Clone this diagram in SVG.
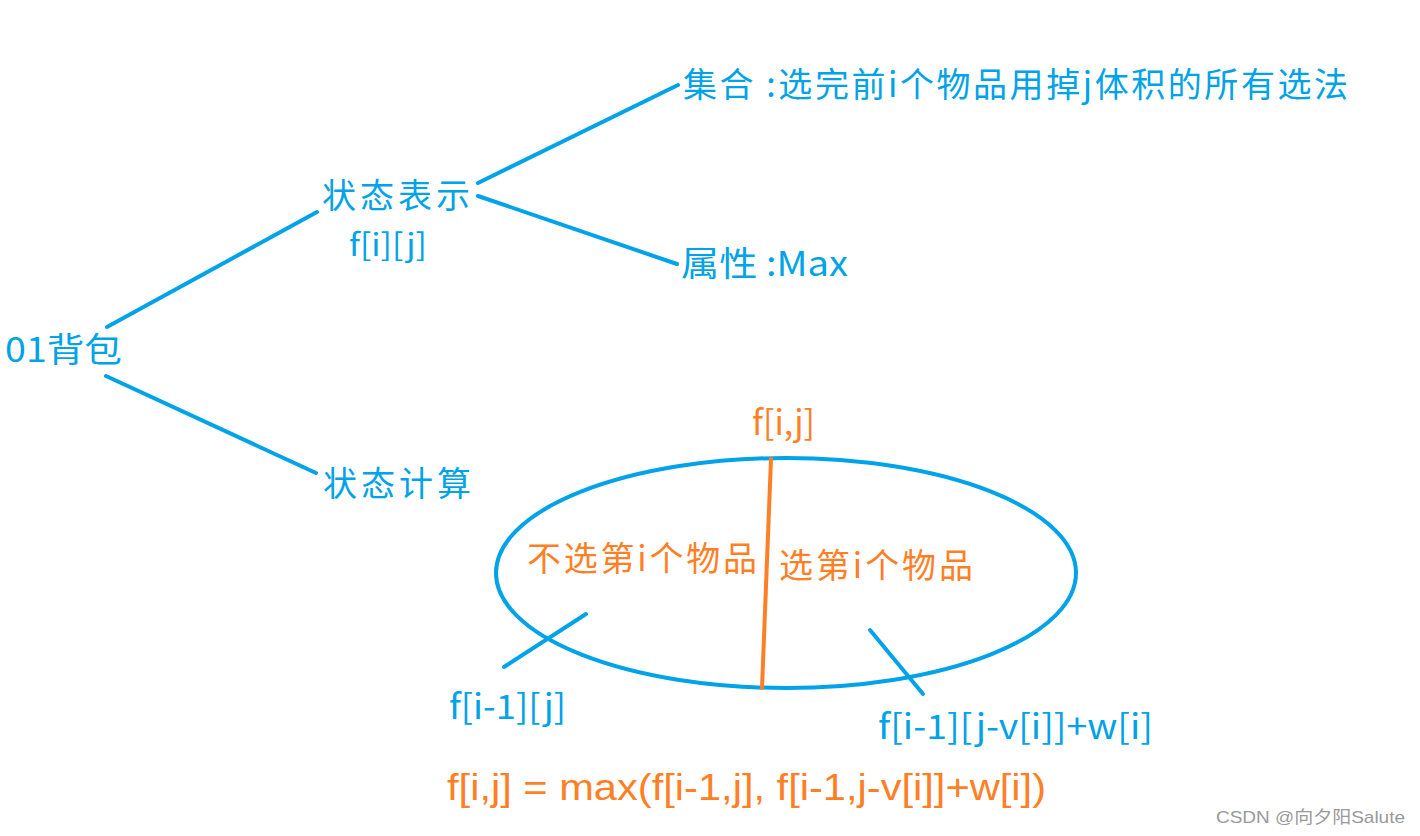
<svg xmlns="http://www.w3.org/2000/svg" width="1420" height="836" viewBox="0 0 1420 836">
<style>
.b{fill:#00A2E8;font-family:"Noto Sans CJK SC","Noto Sans",sans-serif;font-size:34px}
.o{fill:#FF7F27;font-family:"Noto Sans CJK SC","Noto Sans",sans-serif;font-size:34px}
.s{font-size:31px}
.f{fill:#FF7F27;font-family:"Liberation Sans","Noto Sans CJK SC",sans-serif;font-size:36px}
.w{fill:#999;font-family:"Liberation Sans","Noto Sans CJK SC",sans-serif;font-size:17px}
.lb{stroke:#00A2E8;stroke-width:4;stroke-linecap:round;fill:none}
.lo{stroke:#FF7F27;stroke-width:4;stroke-linecap:round;fill:none}
</style>
<rect width="1420" height="836" fill="#fff"/>
<g id="connectors">
<line class="lb" x1="107" y1="327" x2="317" y2="212"/>
<line class="lb" x1="478" y1="183" x2="678" y2="85"/>
<line class="lb" x1="478" y1="196" x2="677" y2="264"/>
<line class="lb" x1="106" y1="376" x2="316" y2="473"/>
<line class="lb" x1="586" y1="614" x2="504" y2="667"/>
<line class="lb" x1="870" y1="630" x2="923" y2="694"/>
</g>
<g id="root"><text class="b" x="5" y="362" textLength="117" lengthAdjust="spacingAndGlyphs">01背包</text></g>
<g id="state-rep"><text class="b" x="322" y="208" textLength="148">状态表示</text><text class="b s" x="349" y="256" textLength="78" lengthAdjust="spacingAndGlyphs">f[i][j]</text></g>
<g id="set"><text class="b" x="683" y="97" textLength="665">集合 :选完前i个物品用掉j体积的所有选法</text></g>
<g id="attr"><text class="b" x="681" y="276" textLength="167" lengthAdjust="spacingAndGlyphs">属性 :Max</text></g>
<g id="state-calc"><text class="b" x="323" y="496" textLength="148">状态计算</text></g>
<g id="ellipse">
<ellipse cx="786" cy="573" rx="290" ry="115" fill="none" stroke="#00A2E8" stroke-width="4"/>
<line class="lo" x1="771" y1="459" x2="762" y2="688"/>
<text class="o" x="752" y="435" textLength="63" lengthAdjust="spacingAndGlyphs">f[i,j]</text>
<text class="o" x="527" y="571" textLength="230">不选第i个物品</text>
<text class="o" x="779" y="578" textLength="194">选第i个物品</text>
</g>
<g id="left-term"><text class="b" x="449" y="719" textLength="117" lengthAdjust="spacingAndGlyphs">f[i-1][j]</text></g>
<g id="right-term"><text class="b" x="878" y="739" textLength="275" lengthAdjust="spacingAndGlyphs">f[i-1][j-v[i]]+w[i]</text></g>
<g id="formula"><text class="f" x="447" y="800" textLength="599" lengthAdjust="spacingAndGlyphs">f[i,j] = max(f[i-1,j], f[i-1,j-v[i]]+w[i])</text></g>
<text class="w" x="1216" y="823" textLength="189" lengthAdjust="spacingAndGlyphs">CSDN @向夕阳Salute</text>
</svg>
